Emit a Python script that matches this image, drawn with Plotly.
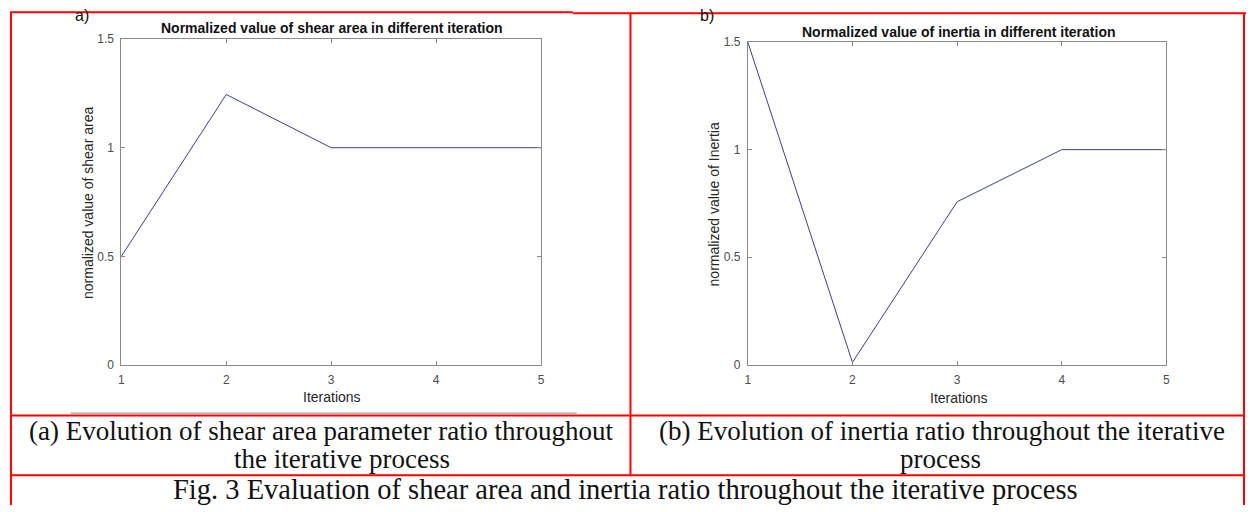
import plotly.graph_objects as go

# Iteration index shared by both panels
iterations = [1, 2, 3, 4, 5]
# Normalized shear area per iteration (panel a)
shear_area = [0.5, 1.245, 1.0, 1.0, 1.0]
# Normalized inertia per iteration (panel b)
inertia = [1.5, 0.012, 0.758, 1.0, 1.0]

y_ticks = [0, 0.5, 1, 1.5]
y_tick_text = ["0", "0.5", "1", "1.5"]

W, H = 1250, 512
LINE_COLOR = "#3d3d8f"
AXIS_GRAY = "#8a8a8a"
TICK_FONT = dict(family="Liberation Sans, Arial, sans-serif", size=12, color="#4d4d4d")


def px_x(v):
    return v / W


def px_y(v):
    return 1 - v / H


fig = go.Figure()
fig.add_trace(go.Scatter(x=iterations, y=shear_area, mode="lines",
                         line=dict(color=LINE_COLOR, width=1), xaxis="x", yaxis="y",
                         showlegend=False))
fig.add_trace(go.Scatter(x=iterations, y=inertia, mode="lines",
                         line=dict(color=LINE_COLOR, width=1), xaxis="x2", yaxis="y2",
                         showlegend=False))

axis_common = dict(showgrid=False, zeroline=False, showline=True, linecolor=AXIS_GRAY,
                   linewidth=1, mirror="allticks", ticks="inside", ticklen=4,
                   tickcolor=AXIS_GRAY, tickfont=TICK_FONT, ticklabelstandoff=4)

fig.update_layout(
    width=W, height=H, margin=dict(l=0, r=0, t=0, b=0),
    paper_bgcolor="white", plot_bgcolor="white",
    xaxis=dict(domain=[px_x(119), px_x(541)], range=[1, 5], tickvals=iterations,
               anchor="y", **axis_common),
    yaxis=dict(domain=[px_y(368), px_y(33)], range=[0, 1.5], tickvals=y_ticks,
               ticktext=y_tick_text, anchor="x", **axis_common),
    xaxis2=dict(domain=[px_x(749), px_x(1170)], range=[1, 5], tickvals=iterations,
                anchor="y2", **axis_common),
    yaxis2=dict(domain=[px_y(368), px_y(36)], range=[0, 1.5], tickvals=y_ticks,
                ticktext=y_tick_text, anchor="x2", **axis_common),
)

ann = []
sans = "Liberation Sans, Arial, sans-serif"
serif = "Liberation Serif, Times New Roman, serif"


def label(text, x, y, size, color="#262626", family=sans, angle=0, bold=False, **kw):
    if bold:
        text = "<b>" + text + "</b>"
    ann.append(dict(text=text, x=px_x(x), y=px_y(y), xref="paper", yref="paper",
                    showarrow=False, textangle=angle,
                    font=dict(family=family, size=size, color=color),
                    xanchor="center", yanchor="middle", **kw))


# Panel titles
label("Normalized value of shear area in different iteration", 331, 22, 14,
      color="#111111", bold=True)
label("Normalized value of inertia in different iteration", 961, 26, 14,
      color="#111111", bold=True)
# Axis titles
label("normalized value of shear area", 86, 202, 14, angle=-90)
label("Iterations", 331, 401, 14)
label("normalized value of Inertia", 715, 203, 14, angle=-90)
label("Iterations", 961, 402, 14)
# Panel letters
label("a)", 79, 9, 16, color="#111111")
label("b)", 708, 9, 16, color="#111111")
# Captions, one annotation per line to keep the tight line spacing
cap = dict(color="#111111", family=serif)
label("(a) Evolution of shear area parameter ratio throughout", 320, 436, 27, **cap)
label("the iterative process", 341, 465, 27, **cap)
label("(b) Evolution of inertia ratio throughout the iterative", 944, 436, 27, **cap)
label("process", 943, 465, 27, **cap)
label("Fig. 3 Evaluation of shear area and inertia ratio throughout the iterative process",
      626, 496, 28.5, **cap)

fig.update_layout(annotations=ann)

# Table borders around the panels and captions
RED = "#ff0000"
shapes = []


def seg(x0, y0, x1, y1, color=RED, width=2):
    shapes.append(dict(type="line", xref="paper", yref="paper",
                       x0=px_x(x0), y0=px_y(y0), x1=px_x(x1), y1=px_y(y1),
                       line=dict(color=color, width=width)))


seg(68, 417.5, 577, 417.5, color="#888888", width=1)
seg(7, 5.5, 573, 5.5)
seg(573, 6.5, 1250, 6.5)
seg(8, 5, 8, 512)
seg(631, 6, 631, 481)
seg(1248, 6, 1248, 512)
seg(7, 420, 1248, 420)
seg(7, 481.5, 1248, 481.5)

fig.update_layout(shapes=shapes)

fig.write_html("out.html")
